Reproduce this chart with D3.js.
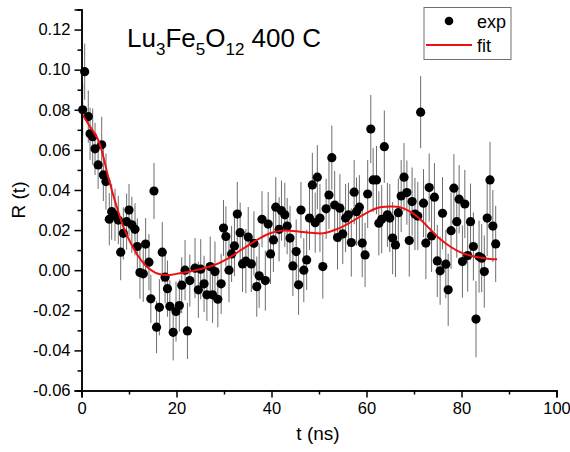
<!DOCTYPE html>
<html lang="en">
<head>
    <meta charset="UTF-8">
    <title>R(t) Lu3Fe5O12</title>
    <script src="https://d3js.org/d3.v7.min.js"></script>
    <style>
        body{ margin:0; background:#fff; }
        text{ font-family: Arial, "Liberation Sans", sans-serif; fill:#000; }
        .axis path, .axis line{ stroke:#000; }
        .errbar{ stroke:#6e6e6e; stroke-width:1px; }
        path.fit{ stroke:#ee1111; stroke-width:2px; fill:none; }
    </style>
</head>
<body>
<svg width="570" height="452"></svg>
<script>
    // measured points (t in ns, R, error)
    let tVals = [0.25,0.67,1.43,1.8,2.35,2.85,3.5,4.25,4.6,5.15,
        5.85,6.35,7.05,7.75,8.25,8.8,9.5,10.0,10.6,11.26,
        11.75,12.3,13.0,13.5,14.2,14.6,15.26,15.8,16.4,17.0,
        17.6,18.1,18.6,19.3,19.9,20.6,21.1,21.8,22.3,22.8,
        23.9,24.6,25.1,25.8,26.4,27.1,27.6,28.1,28.7,29.4,
        29.9,30.4,31.05,31.6,32.2,32.8,33.4,33.9,34.6,35.1,
        35.75,36.3,36.9,37.4,38.0,38.7,39.3,39.8,40.4,40.9,
        41.6,42.1,42.8,43.3,43.9,44.5,45.2,45.7,46.2,46.8,
        47.4,48.0,48.6,49.2,49.65,50.2,50.8,51.5,52.1,52.7,
        53.3,53.9,54.4,55.0,55.6,56.2,56.8,57.4,57.9,58.5,
        59.1,59.7,60.25,60.9,61.4,62.1,62.6,63.2,63.75,64.4,
        64.9,65.5,66.1,66.7,67.3,67.9,68.5,69.0,69.6,70.2,
        70.8,71.4,72.0,72.5,73.2,73.7,74.3,74.9,75.5,76.0,
        76.7,77.2,77.8,78.4,79.0,79.5,80.2,80.7,81.3,81.9,
        82.5,83.05,83.7,84.25,84.8,85.4,86.0,86.6,87.2];
    let rVals = [0.080,0.099,0.0766,0.068,0.0666,0.0605,0.0525,0.0625,0.0475,0.0442,
        0.0254,0.0292,0.0276,0.025,0.009,0.0184,0.0242,0.030,0.0226,0.0204,
        0.0118,-0.0012,-0.0018,0.013,0.004,-0.0143,0.0395,-0.0284,-0.0185,0.009,
        -0.0035,-0.0092,-0.018,-0.031,-0.0206,-0.0176,-0.0075,0.0,-0.0303,-0.0052,
        0.001,-0.0098,0.0005,-0.0068,-0.0123,0.0018,-0.0123,-0.0007,-0.0145,-0.0068,
        0.021,0.0168,0.0,0.0081,0.0121,0.028,0.0187,0.0031,0.0045,0.0165,
        0.0031,0.0134,-0.0082,-0.0028,0.0254,-0.0052,0.023,0.0081,0.0151,0.0314,
        0.0204,0.0297,0.0276,0.022,0.016,0.0021,0.0093,-0.0073,0.030,0.0,
        0.0051,0.026,0.0425,0.0237,0.0464,0.026,0.0018,0.0306,0.0375,0.0561,
        0.0325,0.0163,0.0309,0.0181,0.026,0.0276,0.0138,0.0389,0.0292,0.0314,
        0.0135,0.0076,0.038,0.0704,0.045,0.045,0.0234,0.0254,0.0616,0.0276,
        0.026,0.016,0.0126,0.0287,0.037,0.0464,0.0387,0.0148,0.0342,0.028,
        0.027,0.0788,0.0334,0.0135,0.0412,0.0171,0.0364,0.0046,-0.0003,0.0284,
        0.003,-0.0098,0.0197,0.0409,0.0242,0.0354,0.0043,0.033,0.0073,0.0242,
        0.0118,-0.0244,0.0068,0.006,-0.0007,0.026,0.045,0.022,0.0131];
    let eVals = [0.013,0.014,0.013,0.013,0.014,0.013,0.012,0.014,0.013,0.014,
        0.013,0.014,0.013,0.012,0.014,0.013,0.014,0.013,0.014,0.013,
        0.014,0.013,0.014,0.013,0.014,0.012,0.014,0.013,0.014,0.015,
        0.013,0.014,0.013,0.014,0.015,0.013,0.014,0.015,0.014,0.013,
        0.015,0.014,0.015,0.014,0.013,0.015,0.014,0.015,0.014,0.015,
        0.014,0.015,0.016,0.014,0.015,0.016,0.015,0.014,0.016,0.015,
        0.014,0.016,0.015,0.016,0.014,0.015,0.016,0.015,0.016,0.015,
        0.016,0.015,0.016,0.014,0.016,0.015,0.016,0.015,0.014,0.016,
        0.015,0.016,0.016,0.015,0.016,0.017,0.016,0.015,0.017,0.016,
        0.017,0.016,0.017,0.015,0.017,0.016,0.017,0.016,0.017,0.016,
        0.017,0.016,0.017,0.017,0.016,0.017,0.016,0.017,0.018,0.016,
        0.017,0.018,0.016,0.017,0.018,0.017,0.016,0.018,0.017,0.018,
        0.017,0.018,0.017,0.018,0.017,0.018,0.017,0.018,0.017,0.018,
        0.017,0.018,0.019,0.017,0.018,0.017,0.018,0.017,0.018,0.019,
        0.017,0.019,0.018,0.017,0.018,0.019,0.019,0.018,0.019];

    // fit curve
    let fitT = [0,1.8,3.5,4.6,5.6,7.4,8.8,10.2,12.0,13.7,15.5,17.2,19.0,20.7,22.8,24.9,
        27.05,29.2,31.3,33.4,35.5,37.6,39.7,41.8,43.9,46.0,48.1,50.9,53.7,56.5,59.3,
        62.1,64.9,67.05,69.2,71.3,73.4,75.5,77.6,79.7,81.8,83.9,86.0,87.5];
    let fitR = [0.0783,0.0716,0.065,0.0566,0.0467,0.0317,0.0217,0.0143,0.0068,0.0018,-0.0012,-0.0023,-0.0023,-0.0015,-0.0007,0.0005,
        0.0018,0.0038,0.0065,0.0098,0.013,0.016,0.0184,0.0196,0.0197,0.0192,0.0187,0.0184,0.0204,0.0237,0.0276,
        0.0309,0.0317,0.0314,0.0292,0.0254,0.0204,0.0155,0.0118,0.009,0.0073,0.0063,0.0056,0.0055];

    let xTicks = [0,20,40,60,80,100];
    let yTicks = [-0.06,-0.04,-0.02,0.00,0.02,0.04,0.06,0.08,0.10,0.12];

    let svg = d3.select('svg');
    let xScale = d3.scaleLinear().domain([0,100]).range([81.5,556.5]);
    let yScale = d3.scaleLinear().domain([-0.06,0.13]).range([390.5,9.5]);

    let data = tVals.map(function(t,i){return {t:t, r:rVals[i], e:eVals[i]}});
    let fitData = fitT.map(function(t,i){return {t:t, r:fitR[i]}});

    // error bars
    svg.append('g').selectAll('line').data(data).join('line')
        .attr('class','errbar')
        .attr('x1',function(d){return xScale(d.t)})
        .attr('x2',function(d){return xScale(d.t)})
        .attr('y1',function(d){return yScale(d.r-d.e)})
        .attr('y2',function(d){return yScale(d.r+d.e)});

    // points
    svg.append('g').selectAll('circle').data(data).join('circle')
        .attr('cx',function(d){return xScale(d.t)})
        .attr('cy',function(d){return yScale(d.r)})
        .attr('r',4.6)
        .attr('fill','#000');

    // fit
    let fitLine = d3.line()
        .x(function(d){return xScale(d.t)})
        .y(function(d){return yScale(d.r)})
        .curve(d3.curveCatmullRom);
    svg.append('path').datum(fitData).attr('class','fit').attr('d',fitLine);

    // axes
    let xAxis = svg.append('g').attr('class','axis').attr('transform','translate(0,390.5)');
    xAxis.call(d3.axisBottom(xScale).tickValues(d3.range(10,100,20)).tickSize(4).tickFormat(''));
    xAxis.append('g').call(d3.axisBottom(xScale).tickValues(xTicks).tickSize(7).tickPadding(5)
        .tickFormat(d3.format('d')));
    xAxis.selectAll('path').attr('stroke-width',1.5);
    xAxis.selectAll('line').attr('stroke-width',1.5);
    xAxis.selectAll('text').attr('font-size','16.5px');

    let yAxis = svg.append('g').attr('class','axis').attr('transform','translate(81.5,0)');
    yAxis.call(d3.axisLeft(yScale).tickValues(d3.range(-0.05,0.135,0.02)).tickSize(4).tickFormat(''));
    yAxis.append('g').call(d3.axisLeft(yScale).tickValues(yTicks).tickSize(7).tickPadding(4)
        .tickFormat(d3.format('.2f')));
    yAxis.selectAll('path').attr('stroke-width',1.5);
    yAxis.selectAll('line').attr('stroke-width',1.5);
    yAxis.selectAll('text').attr('font-size','16.5px').text(function(){return this.textContent.replace('−','-')});

    // axis titles
    svg.append('text').attr('x',318).attr('y',440).attr('text-anchor','middle')
        .attr('font-size','19px').text('t (ns)');
    svg.append('text').attr('transform','translate(25,200) rotate(-90)').attr('text-anchor','middle')
        .attr('font-size','19px').text('R (t)');

    // title with subscripts
    let title = svg.append('text').attr('x',127).attr('y',47).attr('font-size','26px');
    title.append('tspan').text('Lu');
    title.append('tspan').attr('dy',8).attr('font-size','17px').text('3');
    title.append('tspan').attr('dy',-8).text('Fe');
    title.append('tspan').attr('dy',8).attr('font-size','17px').text('5');
    title.append('tspan').attr('dy',-8).text('O');
    title.append('tspan').attr('dy',8).attr('font-size','17px').text('12');
    title.append('tspan').attr('dy',-8).text(' 400 C');

    // legend
    let legend = svg.append('g');
    legend.append('rect').attr('x',424).attr('y',7.5).attr('width',87).attr('height',52)
        .attr('fill','#fff').attr('stroke','#707070').attr('stroke-width',1);
    legend.append('circle').attr('cx',449).attr('cy',21).attr('r',4.3).attr('fill','#000');
    legend.append('line').attr('x1',426).attr('x2',472).attr('y1',45).attr('y2',45)
        .attr('stroke','#ee1111').attr('stroke-width',2);
    legend.append('text').attr('x',477).attr('y',28).attr('font-size','18px').text('exp');
    legend.append('text').attr('x',477).attr('y',52).attr('font-size','18px').text('fit');
</script>
</body>
</html>
